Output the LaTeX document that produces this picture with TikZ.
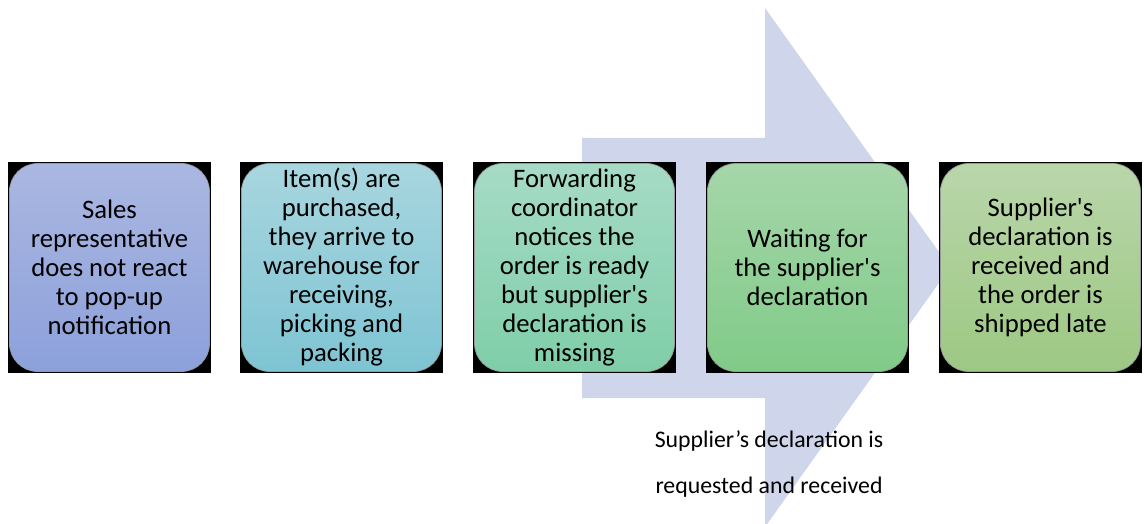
\documentclass[tikz,border=0pt]{standalone}
\usepackage{fontspec}
\setmainfont{Carlito}[Ligatures=TeXOff]
\definecolor{arrowfill}{RGB}{207,213,234}
\definecolor{c1top}{RGB}{170,183,225}
\definecolor{c1bot}{RGB}{140,160,218}
\definecolor{c2top}{RGB}{168,214,223}
\definecolor{c2bot}{RGB}{126,196,211}
\definecolor{c3top}{RGB}{166,219,198}
\definecolor{c3bot}{RGB}{127,206,168}
\definecolor{c4top}{RGB}{166,214,170}
\definecolor{c4bot}{RGB}{128,203,136}
\definecolor{c5top}{RGB}{185,214,170}
\definecolor{c5bot}{RGB}{157,200,131}
\tikzset{
  frame/.style={fill=black, draw=none, inner sep=0pt,
    minimum width=203pt, minimum height=211pt},
  card/.style={rounded corners=28pt, draw=black!40, line width=0.7pt,
    inner sep=0pt, minimum width=200pt, minimum height=208pt,
    align=center, font=\fontsize{26.7}{29}\selectfont},
  note/.style={align=center, font=\fontsize{23.8}{46}\selectfont, inner sep=0pt},
}
\begin{document}
\begin{tikzpicture}[x=1pt, y=-1pt]
  \useasboundingbox (0,0) rectangle (1144,524);
  \clip (0,0) rectangle (1144,524);

  % large background arrow
  \fill[arrowfill] (582,138) -- (765,138) -- (765,8) -- (950,267.5)
    -- (765,527) -- (765,398) -- (582,398) -- cycle;

  % step boxes: black frame with shaded rounded card on top
  \node[frame] (f1) at (109.5,267.5) {};
  \node[card, top color=c1top, bottom color=c1bot] (s1) at (f1)
    {Sales\\representative\\does not react\\to pop-up\\notification};

  \node[frame] (f2) at (341.5,267.5) {};
  \node[card, top color=c2top, bottom color=c2bot] (s2) at (f2)
    {Item(s) are\\purchased,\\they arrive to\\warehouse for\\receiving,\\picking and\\packing};

  \node[frame] (f3) at (574.5,267.5) {};
  \node[card, top color=c3top, bottom color=c3bot] (s3) at (f3)
    {Forwarding\\coordinator\\notices the\\order is ready\\but supplier's\\declaration is\\missing};

  \node[frame] (f4) at (807.5,267.5) {};
  \node[card, top color=c4top, bottom color=c4bot] (s4) at (f4)
    {Waiting for\\the supplier's\\declaration};

  \node[frame] (f5) at (1040.5,267.5) {};
  \node[card, top color=c5top, bottom color=c5bot] (s5) at (f5)
    {Supplier's\\declaration is\\received and\\the order is\\shipped late};

  % caption under the arrow
  \node[note] (cap) at (769,464)
    {Supplier’s declaration is\\requested and received};
\end{tikzpicture}
\end{document}
